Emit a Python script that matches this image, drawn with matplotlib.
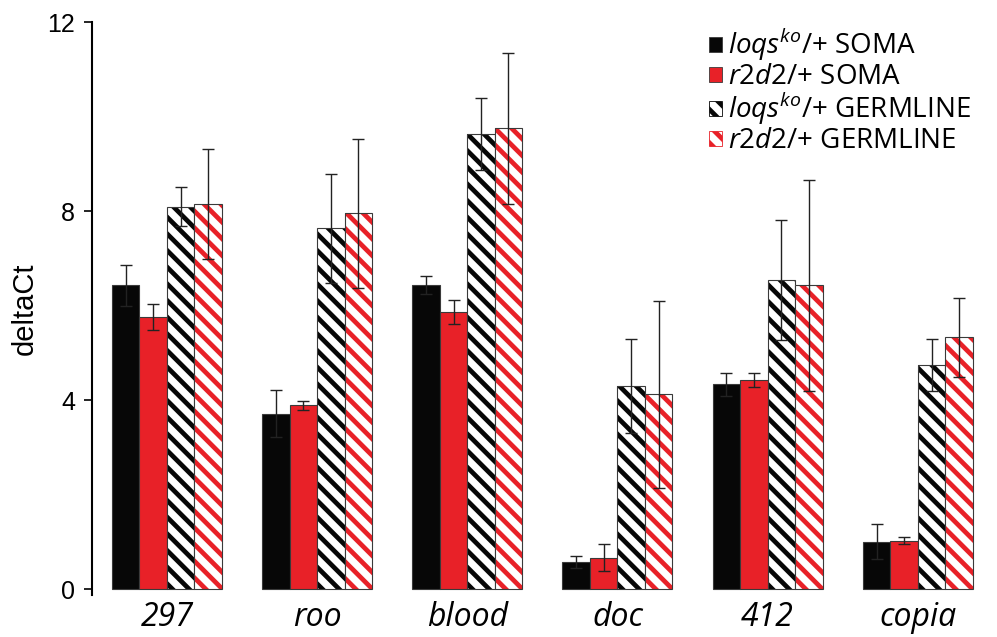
import numpy as np
import matplotlib
matplotlib.use("Agg")
import matplotlib.pyplot as plt
from matplotlib.patches import Patch

# values
genes = ["297", "roo", "blood", "doc", "412", "copia"]
series_names = [r"$loqs^{ko}$/+ SOMA", r"$r2d2$/+ SOMA",
                r"$loqs^{ko}$/+ GERMLINE", r"$r2d2$/+ GERMLINE"]

loqs_soma = [6.43, 3.72, 6.43, 0.58, 4.34, 1.01]
r2d2_soma = [5.76, 3.89, 5.87, 0.67, 4.43, 1.03]
loqs_germ = [8.10, 7.64, 9.63, 4.30, 6.54, 4.75]
r2d2_germ = [8.15, 7.96, 9.76, 4.13, 6.43, 5.33]

loqs_soma_err = [0.44, 0.50, 0.19, 0.13, 0.24, 0.37]
r2d2_soma_err = [0.27, 0.09, 0.25, 0.28, 0.14, 0.07]
loqs_germ_err = [0.41, 1.15, 0.76, 0.99, 1.27, 0.55]
r2d2_germ_err = [1.17, 1.58, 1.60, 1.98, 2.24, 0.84]

black = "#070707"
red = "#E82128"
edge = "#3a3a3a"

plt.rcParams["mathtext.fontset"] = "custom"
plt.rcParams["mathtext.it"] = "Open Sans:italic"
plt.rcParams["mathtext.rm"] = "Open Sans"
plt.rcParams["hatch.linewidth"] = 3.4

fig = plt.figure(figsize=(9.97, 6.37), dpi=100)
ax = fig.add_axes([0.092, 0.066, 0.904, 0.899])

x = np.arange(len(genes))
w = 0.183
offs = np.array([-1.5, -0.5, 0.5, 1.5]) * w
err_kw = dict(ecolor="#222222", elinewidth=1.0, capsize=4.5, capthick=1.0)

ax.bar(x + offs[0], loqs_soma, w, color=black, edgecolor=edge, linewidth=0.8,
       yerr=loqs_soma_err, error_kw=err_kw)
ax.bar(x + offs[1], r2d2_soma, w, color=red, edgecolor=edge, linewidth=0.8,
       yerr=r2d2_soma_err, error_kw=err_kw)

# hatched bars: stripes first, then a dark outline on top
ax.bar(x + offs[2], loqs_germ, w, color="white", edgecolor=black, hatch="\\\\", linewidth=0)
ax.bar(x + offs[2], loqs_germ, w, fill=False, edgecolor=edge, linewidth=0.8,
       yerr=loqs_germ_err, error_kw=err_kw)
ax.bar(x + offs[3], r2d2_germ, w, color="white", edgecolor=red, hatch="\\\\", linewidth=0)
ax.bar(x + offs[3], r2d2_germ, w, fill=False, edgecolor=edge, linewidth=0.8,
       yerr=r2d2_germ_err, error_kw=err_kw)

ax.set_xlim(-0.5, 5.5)
ax.set_ylim(-0.12, 12)
ax.set_yticks([0, 4, 8, 12])
ax.set_xticks(x)
ax.set_xticklabels(genes, fontsize=23, fontstyle="italic", family="Open Sans")
ax.tick_params(axis="x", length=0, pad=4)
ax.tick_params(axis="y", length=6, width=1.2, labelsize=18, pad=6)
for lab in ax.get_yticklabels():
    lab.set_family("Liberation Sans")
ax.set_ylabel("deltaCt", fontsize=21, family="Liberation Sans", labelpad=6)

for s in ["top", "right", "bottom"]:
    ax.spines[s].set_visible(False)
ax.spines["left"].set_linewidth(1.5)

handles = [
    Patch(facecolor=black, edgecolor=edge, linewidth=0.6),
    Patch(facecolor=red, edgecolor=edge, linewidth=0.6),
    Patch(facecolor="white", edgecolor=black, hatch="\\\\", linewidth=0.6),
    Patch(facecolor="white", edgecolor=red, hatch="\\\\", linewidth=0.6),
]
fig.legend(handles, series_names, loc="upper left", bbox_to_anchor=(0.700, 0.975),
           frameon=False, prop={"family": "Open Sans", "size": 20},
           handlelength=0.45, handleheight=0.45, handletextpad=0.25,
           labelspacing=0.0, borderaxespad=0)

fig.savefig("out.png", dpi=100)
